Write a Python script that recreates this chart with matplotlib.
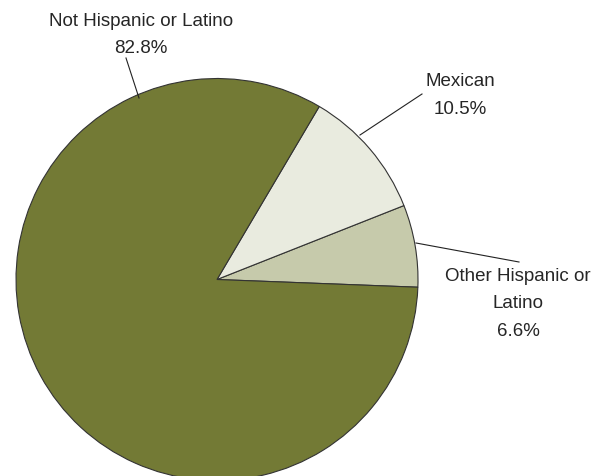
import matplotlib.pyplot as plt

# data
labels = ["Other Hispanic or\nLatino", "Mexican", "Not Hispanic or Latino"]
shares = [6.6, 10.5, 82.8]
colors = ["#C6CAAB", "#E9EBDF", "#737A35"]

plt.rcParams["font.family"] = ["Liberation Sans", "DejaVu Sans"]

W, H = 606, 476
fig = plt.figure(figsize=(W / 100, H / 100), dpi=100)
ax = fig.add_axes([0, 0, 1, 1])

cx, cy, r = 217, H - 279.5, 201
ax.pie(
    shares,
    colors=colors,
    startangle=-2.2,
    counterclock=True,
    center=(cx, cy),
    radius=r,
    frame=True,
    wedgeprops=dict(edgecolor="#333333", linewidth=0.8),
)
ax.set_xlim(0, W)
ax.set_ylim(0, H)
ax.set_aspect("equal")
ax.axis("off")

# label text position (pixels from top-left) and leader line ends
label_pos = [(518, 304), (460, 95.5), (141, 35)]
leaders = [((519, 262), (416, 243)), ((422, 94), (360, 135)), ((126, 58), (139, 98))]

for lab, val, (tx, ty), (p0, p1) in zip(labels, shares, label_pos, leaders):
    ax.text(tx, H - ty, f"{lab}\n{val:.1f}%", ha="center", va="center",
            fontsize=13.5, color="#262626", linespacing=1.78)
    ax.plot([p0[0], p1[0]], [H - p0[1], H - p1[1]], color="#222222", lw=0.8)

fig.savefig("out.png", dpi=100)
